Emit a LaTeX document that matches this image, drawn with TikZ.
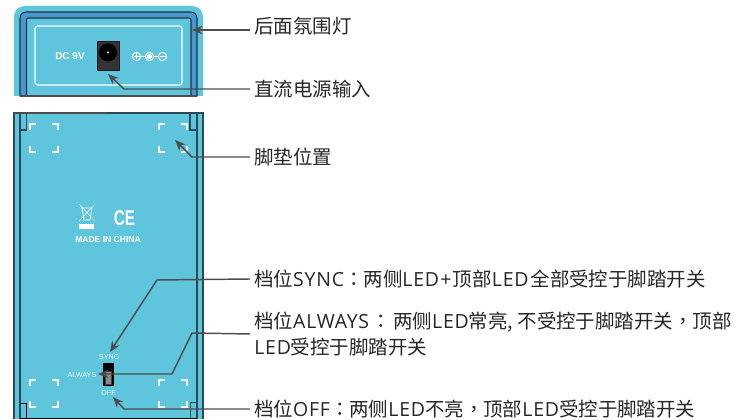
\documentclass[tikz,border=0pt]{standalone}
\usepackage{fontspec}
\setmainfont{Noto Sans CJK SC}
\newfontfamily\tcf{Noto Sans CJK TC}
\newfontfamily\latinf{Liberation Sans}
\newfontfamily\latb[LetterSpace=4]{Open Sans}
\newcommand{\Lt}[1]{{\latb #1}}
\newcommand{\Cln}{{\tcf ：}}
\newcommand{\Cma}{{\tcf ，}}
\definecolor{panel}{HTML}{5EC5DC}
\definecolor{strip}{HTML}{4A97D0}
\definecolor{edge}{HTML}{2B4A58}
\definecolor{conn}{HTML}{4D4D4D}
\usetikzlibrary{arrows.meta}
\tikzset{
  lbl/.style={anchor=west,inner sep=0pt,font=\fontsize{14.6pt}{19.5pt}\selectfont,text=black!85,align=left},
  conn/.style={draw=conn,line width=1.1pt,-{Stealth[length=8pt,width=6.5pt]}},
  bracket/.style={draw=white,line width=1pt},
  tiny/.style={font=\latinf\fontsize{5.4pt}{6pt}\selectfont,text=white!90!panel,inner sep=0pt},
  wht/.style={draw=white,line width=0.7pt},
}
\newcommand{\footmarks}[4]{%
  \draw[bracket] (#1,#3+6)--(#1,#3)--(#1+6,#3);
  \draw[bracket] (#2-6,#3)--(#2,#3)--(#2,#3+6);
  \draw[bracket] (#1,#4-6)--(#1,#4)--(#1+6,#4);
  \draw[bracket] (#2-6,#4)--(#2,#4)--(#2,#4-6);
}
\begin{document}
\begin{tikzpicture}[x=0.75pt,y=-0.75pt]
\useasboundingbox (0,0) rectangle (746,420);
% top unit
\fill[panel,rounded corners=8pt] (14,110) -- (14,6) -- (203,6) -- (203,110) -- cycle;
\fill[white] (10,96) rectangle (210,112);
\filldraw[fill=strip,draw=edge!70!black,line width=0.8pt] (20,96) [rounded corners=4.5pt] -- (20,12) -- (197,12) [sharp corners] -- (197,96) -- cycle;
\filldraw[fill=panel,draw=edge!70!black,line width=0.8pt,rounded corners=1.5pt] (26.5,96) -- (26.5,18) -- (191,18) -- (191,96);
\draw[conn,-] (20,96) -- (197,96);
\draw[white,line width=0.8pt,rounded corners=2pt] (35,26) rectangle (182,85);
\node[inner sep=0pt,text=white,font=\latinf\bfseries\fontsize{7.5pt}{9pt}\selectfont] (dc) at (70,56.5) {DC 9V};
\filldraw[fill=black!80,draw=black!90,line width=0.5pt] (97,41.5) rectangle (119,70.5);
\fill[black] (108,52.5) circle[radius=6.8pt];
\fill[white] (108,52.5) circle[radius=0.9pt];
% polarity symbols
\draw[wht] (136.5,56.5) circle[radius=3.1pt];
\draw[wht] (133.5,56.5)--(139.5,56.5) (136.5,53.5)--(136.5,59.5);
\draw[wht] (140.5,56.5)--(145,56.5);
\draw[wht] (149.5,56.5) circle[radius=3.1pt];
\fill[white] (149.5,56.5) circle[radius=2pt];
\draw[wht] (154,56.5)--(158,56.5);
\draw[wht] (162.5,56.5) circle[radius=3.1pt];
\draw[wht] (159.5,56.5)--(165.5,56.5);
% lower unit
\fill[panel] (14,113) rectangle (203,419);
\draw[edge,line width=0.9pt] (14,419)--(14,113)--(203,113)--(203,419);
\draw[black!70,line width=1pt] (14,113)--(107,113);
\draw[edge,line width=0.9pt] (20,113)--(20,419) (197,113)--(197,419);
\draw[black,line width=1pt] (20,418.5)--(197,418.5);
\draw[edge,line width=0.8pt] (20,130)--(26.5,130)--(26.5,113);
\draw[edge,line width=0.8pt] (197,130)--(190,130)--(190,113);
\draw[black,line width=0.7pt] (20,403.5)--(26.5,403.5)--(26.5,418);
\draw[edge,line width=0.8pt] (197,402.5)--(190.5,402.5)--(190.5,418);
\footmarks{30}{58}{124}{152}
\footmarks{159}{187}{124}{152}
\footmarks{30}{58}{380}{407}
\footmarks{159}{187}{380}{407}
% marks
\draw[white,line width=0.4pt] (79,204)--(95,221) (95,204)--(79,221);
\draw[white,line width=0.5pt] (82,208)--(92,208)--(90,220)--(84,220)--cycle;
\fill[white] (79,224) rectangle (94,229);
\node[inner sep=0pt,text=white,font=\latinf\bfseries\fontsize{16pt}{17pt}\selectfont,xscale=0.72] (ce) at (124.5,218) {CE};
\node[inner sep=0pt,text=white,font=\latinf\bfseries\fontsize{6.4pt}{7pt}\selectfont] (made) at (108,239.5) {MADE IN CHINA};
% switch
\filldraw[fill=black,draw=black] (103.5,363.5) rectangle (113,385);
\filldraw[fill=black!45,draw=black!75] (105,371) rectangle (111.5,384);
\node[tiny] (sync) at (109,357) {SYNC};
\node[tiny] (always) at (82,375) {ALWAYS};
\node[tiny] (off) at (108.5,393) {OFF};
% labels
\node[lbl] (l1) at (254,26) {后面氛围灯};
\node[lbl] (l2) at (254,89) {直流电源输入};
\node[lbl] (l3) at (254,157) {脚垫位置};
\node[lbl] (l4) at (254,279) {档位\Lt{SYNC}\Cln 两侧\Lt{LED\kern1pt+\kern1pt}顶部\Lt{LED}\kern1.5pt 全部受控于脚踏开关};
\node[lbl] (l5) at (254,334) {档位\Lt{ALWAYS}\kern1.5pt\Cln\kern2pt 两侧\Lt{LED}常亮, 不受控于脚踏开关\Cma 顶部\\\Lt{LED}受控于脚踏开关};
\node[lbl] (l6) at (254,409) {档位\Lt{OFF}\Cln 两侧\Lt{LED}不亮\Cma 顶部\Lt{LED}受控于脚踏开关};
% connector ends
\coordinate (t1) at (192,30);
\coordinate (t2) at (108,74);
\coordinate (e2) at (124,89);
\coordinate (t3) at (175,140);
\coordinate (e3) at (192,157);
\coordinate (t4) at (110,352);
\coordinate (e4) at (157,280);
\coordinate (t5) at (98,374);
\coordinate (e5) at (172,374);
\coordinate (e5b) at (192,333);
\coordinate (t6) at (113,397);
\coordinate (e6) at (124,409);
\draw[conn] (l1.west |- t1) ++(-4,0) -- (t1);
\draw[conn] (l2.west) ++(-4,0) -- (e2) -- (t2);
\draw[conn] (l3.west) ++(-4,0) -- (e3) -- (t3);
\draw[conn] (l4.west) ++(-4,0) -- (e4) -- (t4);
\draw[conn] (l5.west) ++(-4,0) -- (e5b) -- (e5) -- (t5);
\draw[conn] (l6.west) ++(-4,0) -- (e6) -- (t6);
\end{tikzpicture}
\end{document}
